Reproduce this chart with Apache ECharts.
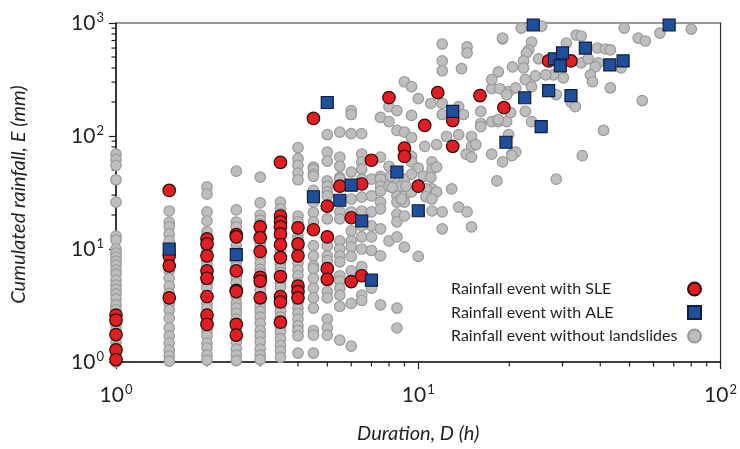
<!DOCTYPE html>
<html>
<head>
<meta charset="utf-8">
<script src="https://cdn.jsdelivr.net/npm/echarts@6/dist/echarts.min.js"></script>
<style>
  html, body { margin: 0; padding: 0; background: #fff; }
  #chart { width: 740px; height: 449px; }
</style>
</head>
<body>
<div id="chart"></div>
<script>
// gray events sit on discrete durations (h) at the short end
const grayColD = [1, 1.5, 2, 2.5, 3, 3.5, 4, 4.5, 5, 5.5, 6, 6.5, 7, 7.5, 8, 8.5, 9];
const grayColE = [
  [69, 62, 55, 41, 26, 13, 12, 10, 9.2, 8.5, 7.8, 7.2, 6.5, 6, 5.3, 4.8, 4.4, 4, 3.6, 3.2, 2.9, 2.1, 1.9, 1.5, 1.35, 1.2, 1.1, 1.0],
  [21.7, 17.3, 15.7, 13.6, 11.8, 9.1, 7.9, 6.4, 5.5, 4.7, 4.05, 3.3, 2.87, 2.44, 2.0, 1.7, 1.47, 1.27, 1.13, 1.02],
  [35.4, 30.6, 21.3, 17.7, 14.2, 10, 9.3, 7.9, 7.3, 5.9, 4.95, 4.5, 3.3, 3.0, 2.4, 1.9, 1.7, 1.47, 1.33, 1.15, 1.04],
  [48.8, 22.2, 17.3, 15.7, 10.7, 9.5, 7.7, 7, 5.6, 5, 3.8, 3.3, 3, 2.7, 2.4, 2, 1.5, 1.3, 1.15, 1.03],
  [43.2, 25.6, 20, 18, 16.5, 14, 11.5, 10.5, 8.5, 7.5, 6.6, 6.1, 4.7, 4.3, 3.4, 3.1, 2.8, 2.5, 2.2, 1.9, 1.7, 1.5, 1.3, 1.15, 1.05],
  [26, 22.6, 20.5, 12.5, 9.5, 7.5, 6.8, 6.2, 5, 4.6, 3.1, 2.8, 2.5, 2.0, 1.85, 1.6, 1.4, 1.25, 1.1],
  [79, 63, 55, 47, 41, 19.6, 17.4, 13, 12, 10, 9.2, 7.5, 6.5, 5.8, 5, 3.9, 3.4, 3.0, 2.7, 2.4, 2.1, 1.9, 1.7, 1.2],
  [53, 51, 46, 44, 33, 26, 21, 17.4, 10.7, 8.7, 7.1, 6.7, 5.5, 4.5, 3.7, 3.0, 1.9, 1.73, 1.2],
  [103, 72, 60, 40, 36, 32, 29.5, 18.5, 10.7, 8.7, 7.9, 5.2, 4.2, 3.7, 2.4, 2.0, 1.73],
  [108, 65, 54, 43, 41.5, 21.3, 18.5, 11.8, 10, 8.7, 7.7, 5.8, 5.2, 4.5, 3.9, 3.1, 1.56],
  [168, 155, 105, 48, 27.7, 21.3, 14.5, 11.8, 10.4, 8.6, 6.4, 3.3, 1.38],
  [105, 69, 59, 51, 41.5, 28.8, 21.7, 16, 12.8, 10, 7, 3.9, 3.5],
  [41.5, 29.5, 21.3, 16, 12.8, 9.7, 4.5],
  [146, 65, 44, 41.5, 36, 32.6, 26, 22.6, 15.1, 8.7, 3.2],
  [182, 134, 54, 36, 11.8],
  [168, 112, 41.5, 29.5, 26, 20.4, 17.4, 12.8, 3.0, 2.0],
  [302, 108, 41.5, 29.5, 26, 19.6, 10.4]
];

// gray events at longer durations [D, E]
const grayScatter = [
  [9.5, 273], [10, 214], [11, 194], [12, 194], [13.6, 182], [9.5, 152], [12, 155], [16.1, 129],
  [17.5, 134], [18.4, 134], [19.6, 134], [17.5, 262], [18.6, 262], [19.9, 247], [9.5, 97], [10.5, 81],
  [11.5, 84], [12.4, 99], [13.6, 103], [15, 99], [15, 81], [14.4, 69], [15, 65], [17.5, 69],
  [20.4, 69], [19, 59], [16.1, 121], [9.5, 66], [9.5, 59], [10, 52], [11.1, 59], [11.1, 51],
  [10.4, 44], [11.1, 34], [11.5, 32], [12.9, 34], [18.2, 40], [8.75, 36], [9.5, 32], [8.8, 27.7],
  [12, 652], [14.5, 614], [14.5, 543], [19, 722], [12, 462], [12, 378], [13.9, 394], [18.4, 370],
  [20.5, 409], [17.5, 315], [14.1, 155], [16.1, 165], [20.2, 161], [15.5, 84], [11.5, 53], [11, 43],
  [9.5, 46], [8.1, 44], [9.1, 36], [8.2, 35], [10.6, 34], [10.6, 29], [11.1, 27.7], [11.1, 21.7],
  [12, 21.3], [12, 15.1], [13.6, 23.5], [14.5, 21.3], [15, 15.7], [10, 8.6],
  [21.9, 902], [25.6, 940], [48, 902], [80, 884], [63, 815], [53.4, 736], [56.4, 693], [33.3, 783],
  [34.6, 767], [30.9, 665], [39.1, 601], [41.6, 589], [43.2, 578], [23.7, 679], [23.2, 578], [22.8, 543],
  [19, 736], [25, 482], [22.3, 462], [22.3, 401], [39.4, 444], [38.5, 409], [34.6, 444], [36.5, 482],
  [46.9, 401], [37.1, 348], [37.7, 302], [30.2, 327], [28, 348], [26.4, 348], [24.4, 341], [22.6, 315],
  [23.7, 273], [21, 267], [19.6, 232], [28.6, 232], [32.1, 198], [33.1, 182], [43.2, 267], [55.1, 206],
  [22.6, 165], [18.4, 140], [23.7, 134], [41, 112], [19.9, 103], [21, 72], [20.4, 67], [34.9, 67],
  [28.6, 41.5]
];

// rainfall events with SLE
const sleEvents = [
  [1, 2.6], [1, 2.35], [1, 1.75], [1, 1.28], [1, 1.05],
  [1.5, 33], [1.5, 8.7], [1.5, 7.1], [1.5, 3.7],
  [2, 12.3], [2, 11.1], [2, 8.7], [2, 6.4], [2, 5.5], [2, 3.8], [2, 2.6], [2, 2.15],
  [2.5, 13.4], [2.5, 12.8], [2.5, 6.4], [2.5, 4.3], [2.5, 4.2], [2.5, 2.15], [2.5, 1.73],
  [3, 15.7], [3, 12.6], [3, 9.5], [3, 5.6], [3, 5.2], [3, 3.7],
  [3.5, 58.5], [3.5, 19.6], [3.5, 17.4], [3.5, 15.7], [3.5, 13.6], [3.5, 10.9], [3.5, 8.4],
  [3.5, 5.7], [3.5, 3.8], [3.5, 3.4], [3.5, 2.25],
  [4, 15.4], [4, 11.1], [4, 8.7], [4, 4.7], [4, 4.2], [4, 3.7],
  [4.5, 143], [4.5, 14.8], [5, 24], [5, 12.8], [5, 6.7], [5, 5.4],
  [5.5, 36], [6, 18.9], [6, 5.15], [6.5, 37.6], [6.5, 5.8], [7, 61], [8, 219],
  [9, 78], [9, 66], [10, 36], [10.5, 124], [11.6, 242], [13, 137], [13, 81],
  [16, 228], [19.2, 178], [27, 462], [32, 462]
];

// rainfall events with ALE
const aleEvents = [
  [1.5, 10], [2.5, 8.9], [4.5, 29], [5, 198], [5.5, 27], [6, 36.7], [6.5, 17.7], [7, 5.3],
  [8.5, 48], [10, 21.8], [13, 165], [19.5, 88], [22.5, 218], [24, 960], [25.5, 121], [27, 252],
  [28.2, 482], [29.5, 418], [30, 543], [32, 228], [35.7, 600], [43, 426], [47.6, 462], [67.6, 960]
];

const seriesNames = ['Rainfall event with SLE', 'Rainfall event with ALE', 'Rainfall event without landslides'];

const grayEvents = [];
grayColD.forEach(function (d, i) {
  grayColE[i].forEach(function (e) { grayEvents.push([d, e]); });
});
grayScatter.forEach(function (p) { grayEvents.push(p); });

const FONT = 'Lato, "Open Sans", sans-serif';
const INK = '#231f20';

function powLabel(v) {
  return '{b|10}{s|' + Math.round(Math.log10(v)) + '}';
}
const powRich = {
  b: { fontSize: 21, fontFamily: FONT, color: INK, lineHeight: 24 },
  s: { fontSize: 13, fontFamily: FONT, color: INK, verticalAlign: 'top', lineHeight: 24, padding: [0, 0, 0, 1] }
};

const chart = echarts.init(document.getElementById('chart'));

const option = {
  backgroundColor: '#fff',
  animation: false,
  grid: {
    left: 116, right: 17, top: 23, bottom: 85,
    show: true, borderColor: '#3a2e2a', borderWidth: 1.2, backgroundColor: 'transparent'
  },
  legend: {
    orient: 'vertical',
    right: 33,
    top: 276,
    align: 'right',
    itemWidth: 13,
    itemHeight: 13,
    itemGap: 7.5,
    selectedMode: false,
    formatter: function (n) { return '{t|' + n + '}'; },
    textStyle: {
      rich: { t: { width: 232, align: 'left', fontSize: 16, lineHeight: 16, fontFamily: FONT, color: INK } }
    },
    data: seriesNames
  },
  xAxis: {
    type: 'log',
    logBase: 10,
    min: 1,
    max: 100,
    name: 'Duration, D (h)',
    nameLocation: 'middle',
    nameGap: 62,
    nameTextStyle: { fontStyle: 'italic', fontSize: 20, fontFamily: FONT, color: INK },
    axisLine: { lineStyle: { color: INK, width: 1.5 } },
    axisTick: { inside: false, length: 7, lineStyle: { color: INK, width: 1.2 } },
    axisLabel: { margin: 21, formatter: powLabel, rich: powRich },
    splitLine: { show: false }
  },
  yAxis: {
    type: 'log',
    logBase: 10,
    min: 1,
    max: 1000,
    axisLine: { lineStyle: { color: INK, width: 1.5 } },
    axisTick: { inside: false, length: 7, lineStyle: { color: INK, width: 1.2 } },
    axisLabel: { margin: 12, formatter: powLabel, rich: powRich },
    splitLine: { show: false }
  },
  series: [
    {
      name: seriesNames[2],
      type: 'scatter',
      clip: false,
      symbol: 'circle',
      symbolSize: 10.5,
      itemStyle: { color: '#bebebe', borderColor: '#999999', borderWidth: 1.2, opacity: 1 },
      data: grayEvents,
      z: 2
    },
    {
      name: seriesNames[0],
      type: 'scatter',
      clip: false,
      symbol: 'circle',
      symbolSize: 12.5,
      itemStyle: { color: '#e31e22', borderColor: '#2b0a08', borderWidth: 1.2, opacity: 1 },
      data: sleEvents,
      z: 3
    },
    {
      name: seriesNames[1],
      type: 'scatter',
      clip: false,
      symbol: 'rect',
      symbolSize: 12,
      itemStyle: { color: '#1f4f9c', borderColor: '#0f1f3a', borderWidth: 1.2, opacity: 1 },
      data: aleEvents,
      z: 4
    }
  ]
};

chart.setOption(option);

// y title, minor ticks at 2..9 of each decade
const x0 = chart.convertToPixel({ xAxisIndex: 0 }, 1);
const y0 = chart.convertToPixel({ yAxisIndex: 0 }, 1);
const yTop = chart.convertToPixel({ yAxisIndex: 0 }, 1000);
const extras = [{
  type: 'text',
  silent: true,
  x: 19,
  y: (y0 + yTop) / 2 + 2,
  rotation: Math.PI / 2,
  style: {
    text: 'Cumulated rainfall, E (mm)',
    fontStyle: 'italic', fontSize: 20, fontFamily: FONT, fill: INK,
    align: 'center', verticalAlign: 'middle'
  }
}];
[1, 10].forEach(function (d) {
  for (let k = 2; k <= 9; k++) {
    const px = chart.convertToPixel({ xAxisIndex: 0 }, d * k);
    extras.push({ type: 'line', silent: true, shape: { x1: px, y1: y0, x2: px, y2: y0 + 4.5 },
      style: { stroke: INK, lineWidth: 1.2 } });
  }
});
[1, 10, 100].forEach(function (d) {
  for (let k = 2; k <= 9; k++) {
    const py = chart.convertToPixel({ yAxisIndex: 0 }, d * k);
    extras.push({ type: 'line', silent: true, shape: { x1: x0, y1: py, x2: x0 - 4.5, y2: py },
      style: { stroke: INK, lineWidth: 1.2 } });
  }
});
chart.setOption({ graphic: extras });
</script>
</body>
</html>
